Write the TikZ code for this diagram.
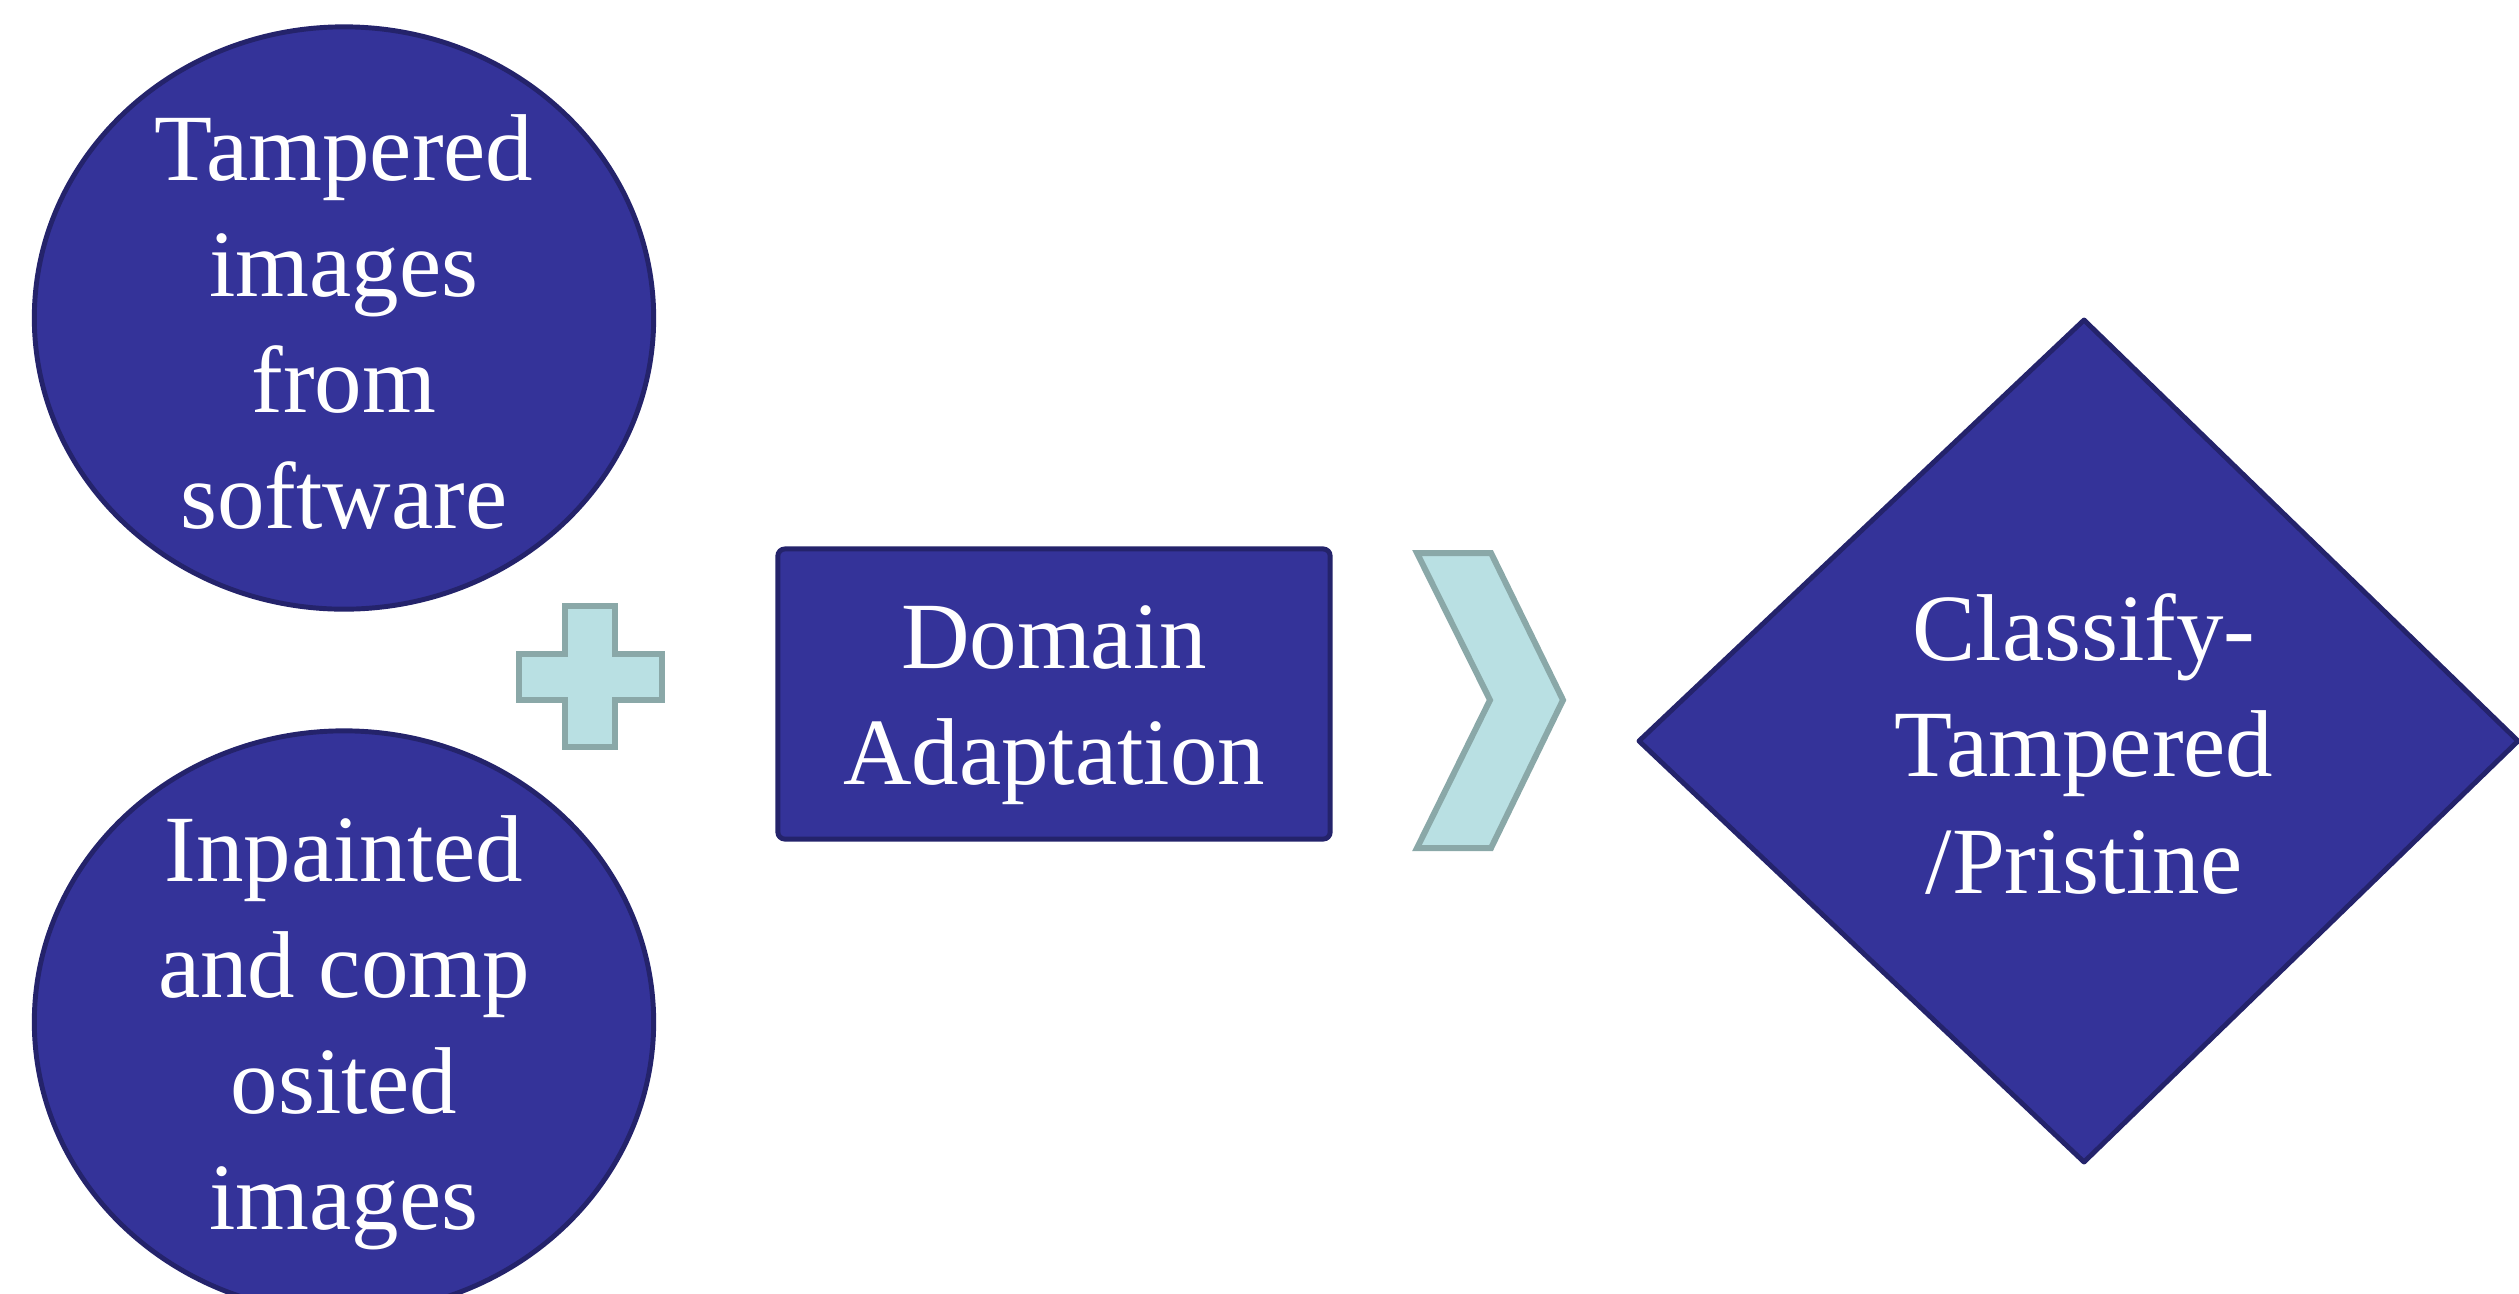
\documentclass[tikz,border=0pt]{standalone}
\usepackage{fontspec}
\setmainfont{Liberation Serif}
\usetikzlibrary{shapes.geometric}
\definecolor{blueFill}{RGB}{52,51,153}
\definecolor{blueLine}{RGB}{36,35,107}
\definecolor{cyanFill}{RGB}{185,224,227}
\definecolor{cyanLine}{RGB}{138,168,168}
\tikzset{
  blueshape/.style={fill=blueFill, draw=blueLine, line width=1.4pt},
  cyanshape/.style={fill=cyanFill, draw=cyanLine, line width=1.7pt, line join=miter},
  label/.style={text=white, align=center, inner sep=0pt,
    font=\fontsize{27}{33}\selectfont},
  ovalbox/.style={blueshape, ellipse, inner sep=0pt, minimum width=6.19cm, minimum height=5.82cm},
}
\begin{document}
\begin{tikzpicture}[x=0.01cm,y=-0.01cm]
\useasboundingbox (0,0) rectangle (2519,1293);
% circles
\node[ovalbox] (c1) at (344,318) {};
\node[label] (t1) at (344,322) {Tampered\\images\\from\\software};
\node[ovalbox] (c2) at (344,1022) {};
\node[label] (t2) at (344,1033) {Inpainted\\and comp\\osited\\images};
% plus
\coordinate (plus) at (590,677);
\draw[cyanshape] (565,606) -- (615,606) -- (615,654) -- (662,654) -- (662,700)
  -- (615,700) -- (615,747) -- (565,747) -- (565,700) -- (519,700) -- (519,654)
  -- (565,654) -- cycle;
% rectangle
\node[blueshape, rounded corners=2pt, minimum width=5.52cm, minimum height=2.90cm, inner sep=0pt] (da) at (1054,694) {};
\node[label] (t3) at (1054,705) {Domain\\Adaptation};
% chevron
\coordinate (chev) at (1490,700);
\draw[cyanshape] (1417,553) -- (1491,553) -- (1563,700) -- (1491,848) -- (1417,848)
  -- (1490,700) -- cycle;
% diamond
\coordinate (dc) at (2080,741);
\draw[blueshape, line join=round] (1639,741) -- (2084,320) -- (2518,741) -- (2084,1162) -- cycle;
\node[label] (t4) at (2084,744) {Classify-\\Tampered\\/Pristine};
\end{tikzpicture}
\end{document}
